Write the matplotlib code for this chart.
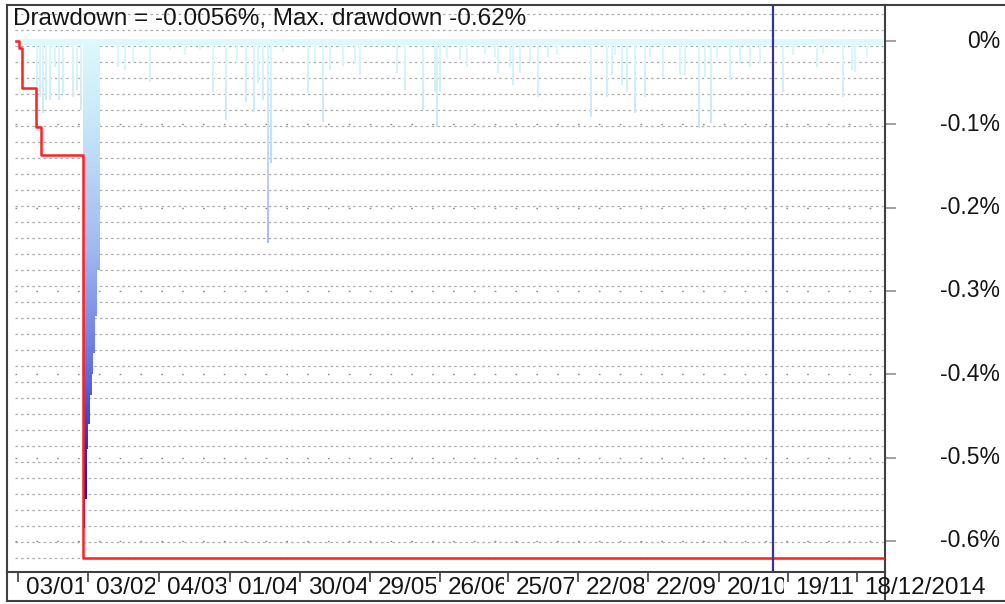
"""
Drawdown chart: gradient drawdown spikes, running max drawdown, bar-index x axis.
"""

import matplotlib

matplotlib.use("Agg")
import matplotlib.pyplot as plt
import numpy as np
from matplotlib.colors import LinearSegmentedColormap
from matplotlib.lines import Line2D
from matplotlib.patches import PathPatch
from matplotlib.path import Path
from matplotlib.transforms import Bbox, TransformedBbox, blended_transform_factory

plt.rcParams["font.family"] = ["Liberation Sans", "DejaVu Sans"]

# ---- data -----------------------------------------------------------------
title = "Drawdown = -0.0056%, Max. drawdown -0.62%"
n_bars = 260
current_dd = -0.0045

# drawdown spikes: bar index, depth in %
spike_pos = [
    6.3, 7.2, 8.1, 9.0, 10.2, 11.7, 12.9, 14.1, 17.1, 18.3, 19.5,
    20.5, 21.0, 21.5, 22.0, 22.5, 23.0, 23.5, 24.0, 24.5, 25.0,
    30.6, 32.7, 35.1, 40.2, 46.2, 50.7, 55.2, 59.1, 63.0, 66.3, 69.0,
    71.4, 72.6, 74.1, 75.6, 76.5, 80.1,
    87.6, 89.7, 92.1, 94.2, 98.1, 101.7, 103.2, 114.3, 116.7, 122.1,
    125.7, 126.3, 127.2, 129.3, 133.2, 135.3, 140.7, 143.7, 144.6,
    148.2, 149.1, 151.2, 154.2, 156.6, 159.6, 162.3,
    172.5, 177.3, 178.8, 179.7, 181.8, 183.3, 185.7, 188.7, 190.2,
    194.1, 199.2, 200.7, 204.9, 206.7, 208.5, 210.3, 214.2, 217.2,
    220.2, 223.2,
    230.1, 233.1, 240.3, 242.1, 248.1, 250.8, 251.7, 255.3,
]
spike_dd = [
    -0.067, -0.067, -0.086, -0.071, -0.071, -0.031, -0.071, -0.062, -0.067, -0.059, -0.083,
    -0.585, -0.55, -0.49, -0.46, -0.425, -0.40, -0.375, -0.33, -0.275, -0.275,
    -0.031, -0.035, -0.025, -0.049, -0.011, -0.017, -0.011, -0.061, -0.095, -0.026, -0.073,
    -0.085, -0.050, -0.071, -0.242, -0.146, -0.013,
    -0.062, -0.025, -0.097, -0.035, -0.030, -0.026, -0.041, -0.038, -0.059, -0.083,
    -0.061, -0.103, -0.061, -0.020, -0.023, -0.031, -0.017, -0.019, -0.038,
    -0.031, -0.053, -0.038, -0.025, -0.067, -0.019, -0.017,
    -0.091, -0.067, -0.041, -0.017, -0.053, -0.061, -0.086, -0.067, -0.019,
    -0.043, -0.041, -0.041, -0.104, -0.043, -0.098, -0.020, -0.047, -0.026,
    -0.031, -0.026,
    -0.061, -0.017, -0.031, -0.014, -0.067, -0.035, -0.037, -0.019,
]

# running maximum drawdown (step changes)
maxdd_pos = [0, 1, 1.7, 6, 7.4, 20, 260]
maxdd_val = [0, -0.008, -0.056, -0.103, -0.137, -0.62, -0.62]

marker_pos = 227.1

x_tick_pos = [0.6, 21.6, 42.9, 64.2, 85.2, 106.2, 127.2, 147.6, 168.6, 189.6, 210.9, 231.6, 252.3]
x_tick_labels = ["03/01", "03/02", "04/03", "01/04", "30/04", "29/05", "26/06",
                 "25/07", "22/08", "22/09", "20/10", "19/11", "18/12/2014"]
y_ticks = [0, -0.1, -0.2, -0.3, -0.4, -0.5, -0.6]
y_labels = ["0%", "-0.1%", "-0.2%", "-0.3%", "-0.4%", "-0.5%", "-0.6%"]

# ---- layout (pixel based, figure is 1005x604) -----------------------------
W, H = 1005, 604
PX_PER_BAR = 3.333
PX_PER_PCT = 833.3
x0_px = 16      # pixel of bar 0
y0_px = 41      # pixel of 0%
ax_l, ax_r, ax_t, ax_b = 7, 885, 5, 572
fs = 17.5
fs_y = 16.5
frame_col = "#404040"
text_col = "#151515"

fig = plt.figure(figsize=(W / 100, H / 100), dpi=100)
ax = fig.add_axes([ax_l / W, 1 - ax_b / H, (ax_r - ax_l) / W, (ax_b - ax_t) / H])

xlim = ((ax_l - x0_px) / PX_PER_BAR, (ax_r - x0_px) / PX_PER_BAR)
ylim = (-(ax_b - y0_px) / PX_PER_PCT, (y0_px - ax_t) / PX_PER_PCT)

# grid: dense dashed rows every 16 px, sparse dots at every 0.1 %
minor_rows = [(y0_px - p) / PX_PER_PCT for p in np.arange(14, 561, 16)]
ax.hlines(minor_rows, -0.3, 260, colors="#aaaaaa", linewidth=0.9,
          linestyles=[(0, (2, 2.5))], zorder=1)
ax.hlines(y_ticks, -0.3, 260, colors="#8c8c8c", linewidth=1.0,
          linestyles=[(0, (1.2, 13.8))], zorder=1)

# gradient-filled drawdown (band at top + spikes)
verts, codes = [], []


def add_rect(xa, xb, ya, yb):
    verts.extend([(xa, ya), (xb, ya), (xb, yb), (xa, yb), (xa, ya)])
    codes.extend([Path.MOVETO, Path.LINETO, Path.LINETO, Path.LINETO, Path.CLOSEPOLY])


add_rect(0, n_bars, 0.0025, current_dd)
for p, d in zip(spike_pos, spike_dd):
    add_rect(p - 0.25, p + 0.25, current_dd, d)

clip = PathPatch(Path(verts, codes), transform=ax.transData,
                 facecolor="none", edgecolor="none")
ax.add_patch(clip)

cmap = LinearSegmentedColormap.from_list(
    "dd",
    [(0.0, "#0000a8"), (0.2, "#2c38cc"), (0.35, "#6474de"),
     (0.58, "#a2b8f0"), (0.83, "#c8e6f8"), (1.0, "#ddfafd")],
)
grad = np.linspace(0.003, ylim[0], 400).reshape(-1, 1)
im = ax.imshow(grad, extent=[0, n_bars, ylim[0], 0.003], origin="upper",
               cmap=cmap, vmin=-0.6, vmax=0.003, aspect="auto",
               interpolation="bilinear", zorder=2)
im.set_clip_path(clip)

# running max drawdown
ax.step(maxdd_pos, maxdd_val, where="post", color="#ff2020", linewidth=1.8, zorder=3)

# marker line
ax.axvline(marker_pos, color="#3333a0", linewidth=1.6, zorder=4)

ax.set_xlim(*xlim)
ax.set_ylim(*ylim)

for s in ax.spines.values():
    s.set_color(frame_col)
    s.set_linewidth(1.5)

# x ticks: marks only, labels drawn by hand and clipped before the next tick
ax.set_xticks(x_tick_pos)
ax.set_xticklabels([])
ax.tick_params(axis="x", direction="out", length=7, width=1.2, color=frame_col)

blend = blended_transform_factory(ax.transData, fig.transFigure)
label_y = 1 - 588 / H
for i, (p, lab) in enumerate(zip(x_tick_pos, x_tick_labels)):
    t = fig.text(p + 2.3, label_y, lab, transform=blend, ha="left", va="center",
                 fontsize=fs, color=text_col)
    if i < len(x_tick_pos) - 1:
        t.set_clip_box(TransformedBbox(Bbox([[p, 0], [x_tick_pos[i + 1] - 1.2, 1]]), blend))
    else:
        t.set_clip_on(False)

# y ticks on the right, labels right-aligned at the figure edge
ax.set_yticks(y_ticks)
ax.tick_params(axis="y", left=False, right=True, labelleft=False, labelright=False,
               length=8, width=1.2, color="#909090")
yblend = blended_transform_factory(fig.transFigure, ax.transData)
for v, lab in zip(y_ticks, y_labels):
    fig.text(1000 / W, v, lab, transform=yblend, ha="right", va="center",
             fontsize=fs_y, color=text_col)

# title inside the plot
fig.text(13 / W, 1 - 19 / H, title, ha="left", va="center", fontsize=fs, color=text_col)

# outer frame around label areas
for xs, ys in [((ax_r, 1004), (ax_t, ax_t)), ((ax_l, 1004), (601, 601)),
               ((ax_l, ax_l), (ax_b, 601)), ((ax_r, ax_r), (ax_b, 601))]:
    fig.add_artist(Line2D([x / W for x in xs], [1 - y / H for y in ys],
                          color=frame_col, linewidth=1.5))

fig.savefig("out.png", dpi=100)
